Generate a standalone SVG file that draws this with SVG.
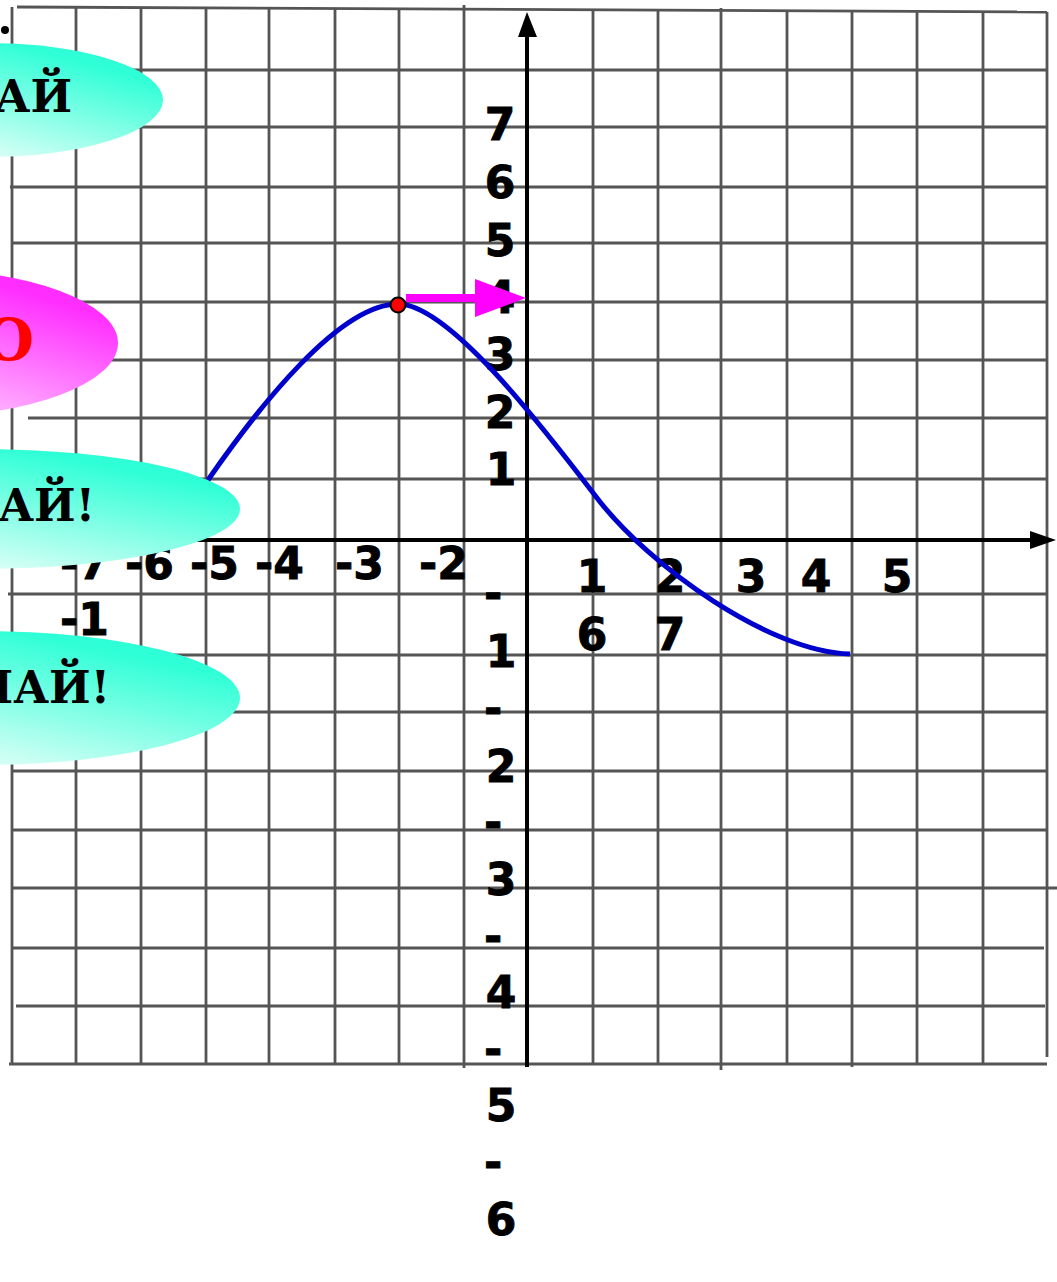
<svg xmlns="http://www.w3.org/2000/svg" width="1057" height="1282" viewBox="0 0 1057 1282">
<style>
.grid line{stroke:#555;stroke-width:2.8}
.ax{stroke:#000;stroke-width:4;fill:none}
.num{font-family:"DejaVu Sans",Verdana,sans-serif;font-weight:bold;font-size:44px;fill:#000;stroke:#000;stroke-width:0.9}
.mid{text-anchor:middle}
.call{font-family:"DejaVu Serif","Liberation Serif",serif;font-weight:bold;font-size:44px;fill:#000;text-anchor:end}
</style>
<defs>
<linearGradient id="teal" x1="0.5" y1="0.95" x2="1" y2="0.35">
<stop offset="0" stop-color="#d4fff5"/>
<stop offset="1" stop-color="#2effd6"/>
</linearGradient>
<linearGradient id="pink" x1="0.5" y1="0.95" x2="1" y2="0.35">
<stop offset="0" stop-color="#ffc4ff"/>
<stop offset="1" stop-color="#ff2eff"/>
</linearGradient>
</defs>
<rect width="1057" height="1282" fill="#fff"/>
<g id="grid" class="grid">
<line x1="12" y1="7" x2="12" y2="1065"/>
<line x1="76" y1="8" x2="76" y2="1065"/>
<line x1="141" y1="8" x2="141" y2="1065"/>
<line x1="206" y1="8" x2="206" y2="1065"/>
<line x1="269" y1="8" x2="269" y2="1065"/>
<line x1="335" y1="8" x2="335" y2="1065"/>
<line x1="399" y1="8" x2="399" y2="1065"/>
<line x1="464" y1="5" x2="464" y2="1068"/>
<line x1="593" y1="9" x2="593" y2="1065"/>
<line x1="658" y1="9" x2="658" y2="1065"/>
<line x1="721" y1="8" x2="721" y2="1070"/>
<line x1="787" y1="10" x2="787" y2="1065"/>
<line x1="852" y1="10" x2="852" y2="1067"/>
<line x1="917" y1="11" x2="917" y2="1065"/>
<line x1="983" y1="11" x2="983" y2="1065"/>
<line x1="1047" y1="12" x2="1047" y2="1057"/>
<line x1="17" y1="7" x2="1047" y2="12"/>
<line x1="12" y1="70" x2="1047" y2="70"/>
<line x1="12" y1="127" x2="1047" y2="127"/>
<line x1="10" y1="187" x2="1047" y2="187"/>
<line x1="12" y1="243" x2="1047" y2="243"/>
<line x1="12" y1="302" x2="1047" y2="302"/>
<line x1="12" y1="360" x2="1047" y2="360"/>
<line x1="28" y1="418" x2="1047" y2="418"/>
<line x1="12" y1="479" x2="1047" y2="479"/>
<line x1="8" y1="594" x2="1047" y2="594"/>
<line x1="12" y1="655" x2="1047" y2="655"/>
<line x1="12" y1="712" x2="1047" y2="712"/>
<line x1="12" y1="771" x2="1047" y2="771"/>
<line x1="12" y1="830" x2="1047" y2="830"/>
<line x1="12" y1="888" x2="1057" y2="888"/>
<line x1="12" y1="948" x2="1044" y2="948"/>
<line x1="16" y1="1006" x2="1045" y2="1006"/>
<line x1="9" y1="1064" x2="1047" y2="1064"/>
</g>
<g id="axes">
<line class="ax" x1="12" y1="540" x2="1032" y2="540"/>
<polygon points="1030,531 1056,540 1030,549" fill="#000"/>
<line class="ax" x1="527" y1="1067" x2="527" y2="34"/>
<polygon points="518,37 527,12 537,37" fill="#000"/>
</g>
<g id="y-labels" class="num">
<text class="mid" x="500" y="140">7</text>
<text class="mid" x="500" y="198">6</text>
<text class="mid" x="500" y="256">5</text>
<text class="mid" x="500" y="313">4</text>
<text class="mid" x="500" y="370">3</text>
<text class="mid" x="500" y="428">2</text>
<text class="mid" x="501" y="485">1</text>
<text x="484" y="609">-</text>
<text class="mid" x="501" y="667">1</text>
<text x="484" y="724">-</text>
<text class="mid" x="501" y="782">2</text>
<text x="484" y="838">-</text>
<text class="mid" x="501" y="895">3</text>
<text x="484" y="952">-</text>
<text class="mid" x="501" y="1008">4</text>
<text x="484" y="1065">-</text>
<text class="mid" x="501" y="1121">5</text>
<text x="484" y="1178">-</text>
<text class="mid" x="501" y="1235">6</text>
</g>
<g id="x-labels" class="num">
<text x="60" y="579">-7</text>
<text x="125" y="579">-6</text>
<text x="190" y="579">-5</text>
<text x="255" y="579">-4</text>
<text x="335" y="579">-3</text>
<text x="419" y="579">-2</text>
<text x="60" y="635">-1</text>
<text class="mid" x="592" y="592">1</text>
<text class="mid" x="670" y="592">2</text>
<text class="mid" x="751" y="592">3</text>
<text class="mid" x="816" y="592">4</text>
<text class="mid" x="897" y="592">5</text>
<text class="mid" x="592" y="650">6</text>
<text class="mid" x="670" y="650">7</text>
</g>
<circle id="bullet" cx="5" cy="30" r="4" fill="#000"/>
<g id="callout1">
<ellipse cx="-14" cy="100" rx="177" ry="57" fill="url(#teal)"/>
<text class="call" x="72" y="112">АЙ</text>
</g>
<g id="callout2">
<ellipse cx="-82" cy="343" rx="200" ry="74" fill="url(#pink)"/>
<text class="call" x="34" y="360" style="font-size:58px;fill:#ff0000">О</text>
</g>
<g id="callout3">
<ellipse cx="-20" cy="509" rx="260" ry="60" fill="url(#teal)"/>
<text class="call" x="95" y="521">АЙ!</text>
</g>
<g id="callout4">
<ellipse cx="-20" cy="698" rx="260" ry="67" fill="url(#teal)"/>
<text class="call" x="110" y="703">МАЙ!</text>
</g>
<g id="curve">
<path d="M208,480 C260,405 340,304 398,304 C450,304 547,433 597,498 C650,567 770,652 850,654" fill="none" stroke="#0000cc" stroke-width="5"/>
</g>
<g id="shift-arrow">
<rect x="406" y="294" width="72" height="8" fill="#ff00ff"/>
<polygon points="475,279 526,298 475,317" fill="#ff00ff"/>
</g>
<circle id="vertex" cx="398" cy="305" r="7.5" fill="#ff0000" stroke="#000" stroke-width="2"/>
</svg>
